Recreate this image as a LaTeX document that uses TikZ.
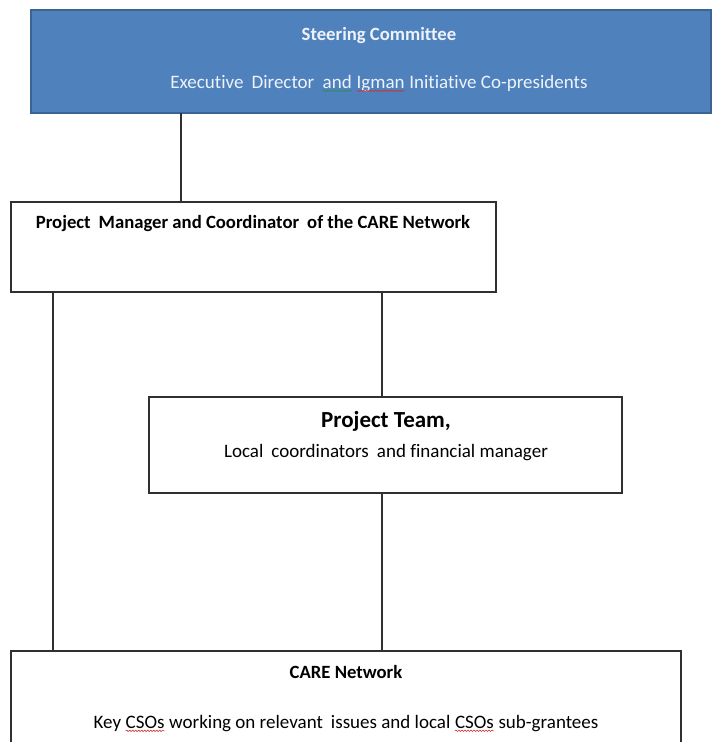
\documentclass[tikz,border=0pt]{standalone}
\usepackage{fontspec}
\setmainfont{Carlito}[Ligatures={NoCommon}]
\usetikzlibrary{decorations.pathmorphing}
\definecolor{scblue}{HTML}{4F81BD}
\definecolor{scedge}{HTML}{3A6494}
\definecolor{ink}{HTML}{303030}
\definecolor{lighttxt}{HTML}{EEF3FA}
\definecolor{spellred}{HTML}{D03030}
\definecolor{spellgreen}{HTML}{2E8B57}
\newcommand\wavy[2]{\tikz[baseline=(w.base)]{\node[inner sep=0pt,outer sep=0pt](w){#2};\draw[#1,line width=0.6pt,decorate,decoration={snake,amplitude=0.7pt,segment length=3pt}] ([yshift=-2.8pt]w.base west)--([yshift=-2.8pt]w.base east);}}
\newcommand\xs{\hspace{0.2em}}
\tikzset{
  box/.style={draw=ink, line width=1.4pt, fill=white, anchor=north west, inner sep=0pt, outer sep=0pt},
  topbox/.style={draw=scedge, line width=2.2pt, fill=scblue, anchor=north west, inner sep=0pt, outer sep=0pt},
  link/.style={draw=ink, line width=1.4pt},
  reg/.style={anchor=base, inner sep=0pt, font=\fontsize{19}{22}\selectfont},
  bld/.style={anchor=base, inner sep=0pt, font=\fontsize{18.7}{22}\selectfont\bfseries},
  big/.style={anchor=base, inner sep=0pt, font=\fontsize{23}{27}\selectfont\bfseries},
}
\begin{document}
\begin{tikzpicture}[x=1pt,y=-1pt]
\clip (0,0) rectangle (712,742);
\fill[white] (0,0) rectangle (712,742);
% boxes
\node[topbox, minimum width=680pt, minimum height=103pt] (sc) at (31,10) {};
\node[box, minimum width=485pt, minimum height=90pt] (pm) at (11,202) {};
\node[box, minimum width=473pt, minimum height=96pt] (pt) at (149,397) {};
\node[box, minimum width=670pt, minimum height=130pt] (care) at (11,651) {};
% connector x positions
\coordinate (c1) at (181,0);
\coordinate (c2) at (53,0);
\coordinate (c3) at (382,0);
\draw[link] (sc.south -| c1) -- (pm.north -| c1);
\draw[link] (pm.south -| c2) -- (care.north -| c2);
\draw[link] (pm.south -| c3) -- (pt.north -| c3);
\draw[link] (pt.south -| c3) -- (care.north -| c3);
% texts
\node[bld, text=lighttxt] (t1) at (379,40) {Steering Committee};
\node[reg, text=lighttxt] (t2) at (379,88) {Executive\xs{} Director\xs{} \wavy{spellgreen}{and} \wavy{spellred}{Igman} Initiative Co-presidents};
\node[bld] (t3) at (253,228) {Project\xs{} Manager and Coordinator\xs{} of the CARE Network};
\node[big] (t4) at (386,427) {Project Team,};
\node[reg] (t5) at (386,457) {Local\xs{} coordinators\xs{} and financial manager};
\node[bld] (t6) at (346,678) {CARE Network};
\node[reg] (t7) at (346,728) {Key \wavy{spellred}{CSOs} working on relevant\xs{} issues and local \wavy{spellred}{CSOs} sub-grantees};
\end{tikzpicture}
\end{document}
